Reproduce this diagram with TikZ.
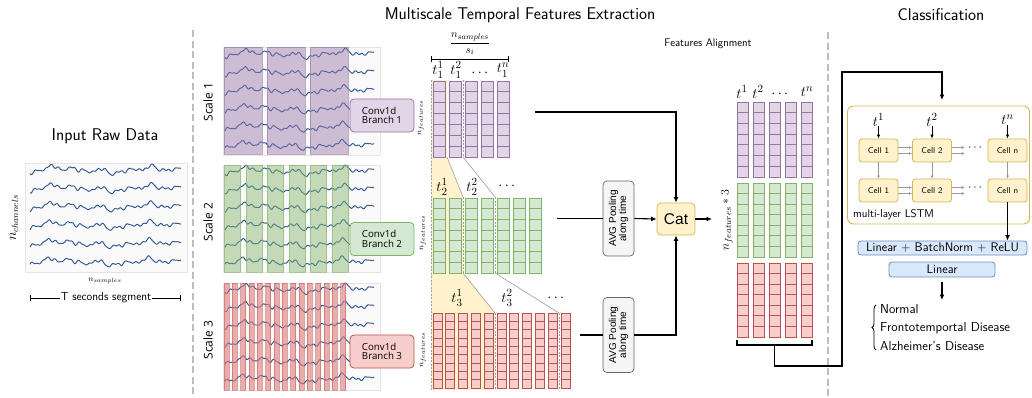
\documentclass[tikz,border=0pt]{standalone}
\usepackage{amsmath}
\usepackage{fontspec}
\newfontfamily\osans{Open Sans}
\newfontfamily\lsans{Liberation Sans}
\usetikzlibrary{arrows.meta,decorations.pathreplacing,calc}
\definecolor{pF}{HTML}{E1D5E7}\definecolor{pD}{HTML}{9673A6}
\definecolor{gF}{HTML}{D5E8D4}\definecolor{gD}{HTML}{82B366}
\definecolor{rF}{HTML}{F8CECC}\definecolor{rD}{HTML}{B85450}
\definecolor{yF}{HTML}{FFF2CC}\definecolor{yD}{HTML}{D6B656}
\definecolor{bF}{HTML}{DAE8FC}\definecolor{bD}{HTML}{6C8EBF}
\definecolor{trc}{HTML}{2F5A96}
\definecolor{sepc}{HTML}{BDBDBD}
\definecolor{rS}{HTML}{E07B78}
\newcommand{\fs}[1]{\fontsize{#1}{#1}\selectfont}
% eeg traces: x0, x1, y0, spacing
\newcommand{\eeg}[4]{%
\foreach \r in {0,...,5}{%
\draw[trace] plot[domain=#1:#2,samples=140,smooth]
 (\x,{#3+\r*#4
 +1.5*sin(((\x-#1)/(#2-#1))*2100+\r*9)
 +1.0*sin(((\x-#1)/(#2-#1))*4700+50+\r*23)
 +0.7*sin(((\x-#1)/(#2-#1))*9300+\r*41)
 +1.0*sin(((\x-#1)/(#2-#1))*3350+110+\r*17)
 +0.6*sin(((\x-#1)/(#2-#1))*6900+20+\r*33)
 +1.9*sin(((\x-#1)/(#2-#1))*560+160)
 +0.9*sin(((\x-#1)/(#2-#1))*1230+70)});
}}
% feature column: x, ytop, w, h, n, style
\newcommand{\fcol}[6]{%
\foreach \i in {1,...,#5}{\draw[#6] (#1,{#2+(\i-1)*#4}) rectangle ++(#3,#4);}}
\begin{document}
\begin{tikzpicture}[x=1pt,y=-1pt,font=\sffamily,
  conn/.style={draw=black,line width=1.1pt},
  arr/.style={conn,-{Latex[length=5.5pt,width=5pt]}},
  garr/.style={draw=gray!80,line width=0.6pt,-{Latex[length=3pt,width=2.8pt]}},
  sep/.style={draw=sepc,line width=2.4pt,dash pattern=on 7pt off 3.5pt},
  panel/.style={fill=black!2,draw=black!10,line width=0.5pt},
  trace/.style={draw=trc,line width=0.95pt},
  gdash/.style={draw=gray!75,line width=0.6pt,dash pattern=on 2pt off 1.5pt},
  gline/.style={draw=gray!75,line width=0.6pt},
  pcell/.style={fill=pF,draw=pD,line width=0.8pt},
  gcell/.style={fill=gF,draw=gD,line width=0.8pt},
  rcell/.style={fill=rF,draw=rD,line width=0.8pt},
  pstrip/.style={fill=pD,fill opacity=0.45,draw=pD,draw opacity=0.6,line width=0.5pt},
  gstrip/.style={fill=gD,fill opacity=0.45,draw=gD,draw opacity=0.6,line width=0.5pt},
  rstrip/.style={fill=rS,fill opacity=0.6,draw=rD,draw opacity=0.5,line width=0.5pt},
  convbox/.style={rounded corners=4pt,line width=0.8pt,minimum width=64pt,minimum height=33pt,align=left,font=\osans\fs{9.7},inner sep=2pt},
  avgbox/.style={rounded corners=4pt,fill=black!4,draw=black!60,line width=0.7pt,rotate=90,minimum width=75pt,minimum height=31pt,align=center,font=\lsans\fs{10},inner sep=1pt},
  cellbox/.style={rounded corners=3pt,fill=yF,draw=yD,line width=0.8pt,minimum width=39pt,minimum height=23pt,font=\sffamily\fs{8.4},inner sep=0pt},
  linbox/.style={rounded corners=3pt,fill=bF,draw=bD,line width=0.8pt,font=\sffamily\fs{12.5},inner sep=0pt},
  title/.style={font=\sffamily\fs{17}},
  tlab/.style={font=\fs{15},inner sep=0pt}
]
\useasboundingbox (0,0) rectangle (1032,397);

% separators
\draw[sep] (193,30) -- (193,397);
\draw[sep] (828,32) -- (828,397);

% titles
\node[title] (tin) at (105,136) {Input Raw Data};
\node[title] (tms) at (520,15) {Multiscale Temporal Features Extraction};
\node[title] (tcl) at (941,15) {Classification};
\node[font=\sffamily\fs{11}] (tfa) at (708,44) {Features Alignment};

% input panel
\draw[panel] (25,163) rectangle (187,272);
\eeg{30}{181}{170}{18.4}
\node[rotate=90,font=\fs{13.5}] (nch) at (14,218) {$n_{channels}$};
\node[font=\fs{8.5}] (nsa) at (105,281) {$n_{samples}$};
\node[font=\sffamily\fs{11.6},inner sep=1pt] (tseg) at (106,298) {T seconds segment};
\draw[line width=0.8pt,|-] (30,298) -- (tseg.west);
\draw[line width=0.8pt,-|] (tseg.east) -- (181,298);

% scale panels
\draw[panel] (223,47) rectangle (380,155);
\eeg{225}{374}{54}{18.3}
\foreach \a in {224,267,310}{\draw[pstrip] (\a,47) rectangle ++(38,107);}
\draw[panel] (223,165) rectangle (380,272);
\eeg{225}{374}{171}{18.2}
\foreach \a in {224,246,267,289,310,332}{\draw[gstrip] (\a,165) rectangle ++(16.5,107);}
\draw[panel] (223,283) rectangle (380,390);
\eeg{225}{374}{289}{18.0}
\foreach \k in {0,...,14}{\draw[rstrip] ({224+\k*8.33},283) rectangle ++(5,107);}

\node[rotate=90,font=\osans\fs{12}] (sc1) at (208,102) {Scale 1};
\node[rotate=90,font=\osans\fs{12}] (sc2) at (208,222) {Scale 2};
\node[rotate=90,font=\osans\fs{12}] (sc3) at (208,340) {Scale 3};

\node[convbox,fill=pF,draw=pD] (conv1) at (382,115.5) {Conv1d\\Branch 1};
\node[convbox,fill=gF,draw=gD] (conv2) at (382,239) {Conv1d\\Branch 2};
\node[convbox,fill=rF,draw=rD] (conv3) at (382,351.5) {Conv1d\\Branch 3};

% yellow highlight
\fill[yF] (431,80) -- (447,80) -- (447,157) -- (463,197) -- (463,273) -- (495,313) -- (495,390) -- (431,390) -- cycle;
\draw[gline] (447,157) -- (463,197);
\draw[gline] (463,273) -- (495,313);
\draw[gline] (463,157) -- (495,197);
\draw[gline] (495,273) -- (559,313);
\draw[gdash] (431,80) -- (431,390);
\draw[gdash] (463,80) -- (463,157);
\draw[gdash] (463,197) -- (463,273);
\draw[gdash] (495,197) -- (495,273);
\draw[gdash] (495,313) -- (495,390);
\draw[gdash] (559,313) -- (559,390);

% feature columns
\foreach \k in {0,...,4}{\fcol{433+16*\k}{81}{12}{10.86}{7}{pcell}}
\foreach \k in {0,...,6}{\fcol{433+16*\k}{198}{12}{10.71}{7}{gcell}}
\foreach \k in {0,...,10}{\fcol{433+12.8*\k}{313}{9}{8.33}{9}{rcell}}

% labels scale 1
\draw[line width=0.8pt,|-|] (431,59) -- (509,59);
\node[font=\fs{11}] (frac) at (470,44) {$\displaystyle\frac{n_{samples}}{s_i}$};
\node[tlab] (t11) at (438,70) {$t_1^1$};
\node[tlab] (t12) at (456,70) {$t_1^2$};
\node[tlab] (t1d) at (481,73) {$\cdots$};
\node[tlab] (t1n) at (503,70) {$t_1^n$};
\node[tlab] (t21) at (442,187) {$t_2^1$};
\node[tlab] (t22) at (472,187) {$t_2^2$};
\node[tlab] (t2d) at (508,186) {$\cdots$};
\node[tlab] (t31) at (457,298) {$t_3^1$};
\node[tlab] (t32) at (507,298) {$t_3^2$};
\node[tlab] (t3d) at (557,298) {$\cdots$};
\node[rotate=90,font=\fs{8}] (nf1) at (421,118) {$n_{features}$};
\node[rotate=90,font=\fs{8}] (nf2) at (423,233) {$n_{features}$};
\node[rotate=90,font=\fs{8}] (nf3) at (423,350) {$n_{features}$};

% aligned columns
\foreach \k in {0,...,4}{\fcol{737+16*\k}{102}{11}{10.71}{7}{pcell}}
\foreach \k in {0,...,4}{\fcol{737+16*\k}{183}{11}{10.57}{7}{gcell}}
\foreach \k in {0,...,4}{\fcol{737+16*\k}{263}{11}{10.57}{7}{rcell}}
\node[tlab] (ta1) at (742,92) {$t^1$};
\node[tlab] (ta2) at (758,92) {$t^2$};
\node[tlab] (tad) at (781,94) {$\cdots$};
\node[tlab] (tan) at (807,92) {$t^n$};
\node[rotate=90,font=\fs{13}] (nf3x) at (727,220) {$n_{features} * 3$};

% pooling and cat
\node[avgbox] (avg1) at (618.5,218.5) {AVG Pooling\\along time};
\node[avgbox] (avg2) at (618.5,335) {AVG Pooling\\along time};
\node[rounded corners=4pt,fill=yF,draw=yD,line width=0.8pt,minimum width=38pt,minimum height=32pt,font=\lsans\fs{15.5},inner sep=0pt] (cat) at (676,219) {Cat};

\coordinate (s1out) at (535,112);
\coordinate (s2out) at (557,218.5);
\coordinate (s3out) at (580,335);
\coordinate (catin) at (712,219);
\draw[arr] (s1out) -- (s1out -| cat.north) -- (cat.north);
\draw[conn] (s2out) -- (avg1.north);
\draw[arr] (avg1.south) -- (cat.west);
\draw[conn] (s3out) -- (avg2.north);
\draw[arr] (avg2.south) -- (avg2.south -| cat.south) -- (cat.south);
\draw[arr] (cat.east) -- (catin);

% bracket and path to LSTM
\draw[conn] (737,339.5) -- (737,345) -- (812,345) -- (812,339.5);
\coordinate (brk) at (774.5,345);

% LSTM
\node[draw=yD,line width=0.9pt,rounded corners=6pt,minimum width=182pt,minimum height=118pt,inner sep=0pt] (lstm) at (938.5,165) {};
\draw[arr,shorten >=6pt] (brk) -- (774.5,366) -- (842,366) -- (842,72) -- (942,72) -- (942,106);
\node[cellbox] (c11) at (878.5,150.5) {Cell 1};
\node[cellbox] (c12) at (932,150.5) {Cell 2};
\node[cellbox] (c1n) at (1007.5,150.5) {Cell n};
\node[cellbox] (c21) at (878.5,190.5) {Cell 1};
\node[cellbox] (c22) at (932,190.5) {Cell 2};
\node[cellbox] (c2n) at (1007.5,190.5) {Cell n};
\node[tlab] (l1) at (878.5,120) {$t^1$};
\node[tlab] (l2) at (932,120) {$t^2$};
\node[tlab] (ln) at (1007.5,120) {$t^n$};
\node[font=\fs{12}] (d1) at (976,148) {$\cdots$};
\node[font=\fs{12}] (d2) at (976,188) {$\cdots$};
\draw[conn,line width=0.8pt,-{Latex[length=4pt,width=3.5pt]}] (l1) -- (c11);
\draw[conn,line width=0.8pt,-{Latex[length=4pt,width=3.5pt]}] (l2) -- (c12);
\draw[conn,line width=0.8pt,-{Latex[length=4pt,width=3.5pt]}] (ln) -- (c1n);
\foreach \rr in {1,2}{
 \draw[garr] ([yshift=-3pt]c\rr1.east) -- ([yshift=-3pt]c\rr2.west);
 \draw[garr] ([yshift=3pt]c\rr1.east) -- ([yshift=3pt]c\rr2.west);
 \draw[garr] ([yshift=-3pt]c\rr2.east) -- ++(13,0);
 \draw[garr] ([yshift=3pt]c\rr2.east) -- ++(13,0);
}
\draw[garr] (c11) -- (c21);
\draw[garr] (c12) -- (c22);
\draw[garr] (c1n) -- (c2n);
\node[anchor=west,font=\sffamily\fs{11.2},inner sep=0pt] (mll) at (853,215) {multi-layer LSTM};

% classifier
\node[linbox,minimum width=169pt,minimum height=14pt] (lin1) at (942.5,248) {Linear + BatchNorm + ReLU};
\node[linbox,minimum width=106pt,minimum height=15pt] (lin2) at (942,269.5) {Linear};
\draw[arr] (c2n.south) -- (c2n.south |- lin1.north);
\coordinate (outp) at (942,300);
\draw[arr] (lin2.south) ++(0,5) -- (outp);
\draw[line width=0.8pt,decorate,decoration={brace,amplitude=4pt}] (876,350) -- (876,305);
\node[anchor=west,font=\sffamily\fs{13},inner sep=0pt] (o1) at (880,309) {Normal};
\node[anchor=west,font=\sffamily\fs{13},inner sep=0pt] (o2) at (880,328) {Frontotemportal Disease};
\node[anchor=west,font=\sffamily\fs{13},inner sep=0pt] (o3) at (880,346) {Alzheimer's Disease};
\end{tikzpicture}
\end{document}
